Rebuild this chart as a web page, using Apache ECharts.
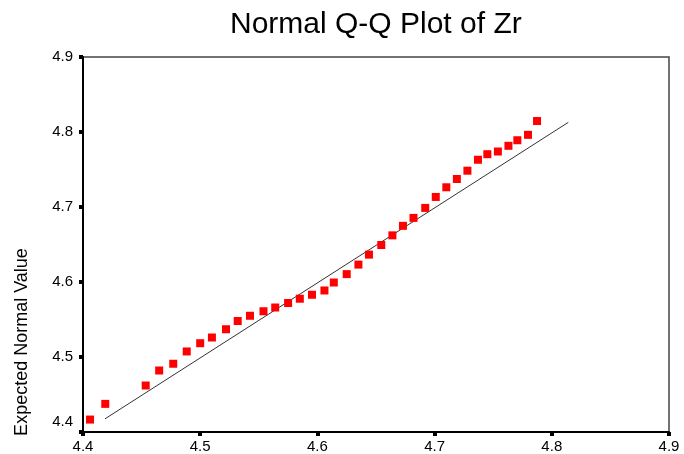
<!DOCTYPE html>
<html>
<head>
<meta charset="utf-8">
<script src="https://cdn.jsdelivr.net/npm/echarts@6/dist/echarts.min.js"></script>
<style>
html,body{margin:0;padding:0;background:#fff;}
#chart{width:684px;height:454px;}
</style>
</head>
<body>
<div id="chart"></div>
<script>
// Observed values (x) and expected normal values (y)
const observed = [4.406,4.419,4.4535,4.465,4.477,4.4885,4.500,4.510,4.522,4.532,4.5425,4.554,4.564,4.575,4.585,4.5954,4.606,4.614,4.625,4.635,4.644,4.6545,4.664,4.673,4.682,4.692,4.701,4.710,4.719,4.728,4.737,4.745,4.754,4.763,4.7706,4.7797,4.7874];
const expected = [4.4166,4.4375,4.462,4.482,4.491,4.5074,4.5184,4.526,4.537,4.548,4.555,4.561,4.566,4.572,4.5777,4.583,4.5887,4.5993,4.6105,4.6232,4.6365,4.6493,4.6622,4.6749,4.6855,4.6988,4.7134,4.7263,4.7373,4.7484,4.763,4.7704,4.774,4.7816,4.789,4.7962,4.8147];
// Reference line endpoints
const refLineX = [4.4188, 4.8141];
const refLineY = [4.4176, 4.8129];
const axisTicks = [4.4, 4.5, 4.6, 4.7, 4.8, 4.9];

const chart = echarts.init(document.getElementById('chart'), null, {renderer:'canvas'});
const font = 'Liberation Sans, Arial, sans-serif';
chart.setOption({
  animation: false,
  backgroundColor: '#fff',
  title: {
    text: 'Normal Q-Q Plot of Zr',
    left: 225, top: 5,
    textStyle: {fontFamily: font, fontSize: 30, fontWeight: 'normal', color: '#000'}
  },
  grid: {left: 83, right: 15, top: 57, bottom: 20, show: true, borderColor: '#444', borderWidth: 1.5},
  xAxis: {
    type: 'value', min: axisTicks[0], max: axisTicks[axisTicks.length-1], interval: 0.1,
    axisLine: {show: true, onZero: false, lineStyle: {color: '#000', width: 2}},
    axisTick: {show: true, length: 4, lineStyle: {color: '#000', width: 4}},
    splitLine: {show: false},
    axisLabel: {fontFamily: font, fontSize: 15, color: '#000', margin: 7,
      formatter: v => v.toFixed(1)}
  },
  yAxis: {
    type: 'value', min: axisTicks[0], max: axisTicks[axisTicks.length-1], interval: 0.1,
    axisLine: {show: true, onZero: false, lineStyle: {color: '#000', width: 2}},
    axisTick: {show: true, length: 4, lineStyle: {color: '#000', width: 4}},
    splitLine: {show: false},
    axisLabel: {fontFamily: font, fontSize: 15, color: '#000', margin: 10,
      formatter: v => Math.abs(v - axisTicks[0]) < 1e-6 ? '{low|' + v.toFixed(1) + '}' : v.toFixed(1),
      rich: {low: {fontFamily: font, fontSize: 15, color: '#000', padding: [0, 0, 20, 0]}}}
  },
  graphic: [{
    type: 'text', x: 22, y: 342, rotation: Math.PI / 2,
    style: {text: 'Expected Normal Value', fontFamily: font, fontSize: 18, fill: '#000',
      align: 'center', verticalAlign: 'middle'}
  }],
  series: [
    {
      type: 'line',
      data: refLineX.map((x, i) => [x, refLineY[i]]),
      symbol: 'none',
      lineStyle: {color: '#333', width: 1},
      z: 2
    },
    {
      type: 'scatter',
      data: observed.map((x, i) => [x, expected[i]]),
      symbol: 'rect', symbolSize: 8,
      itemStyle: {color: '#ff0000', opacity: 1},
      z: 3
    }
  ]
});
</script>
</body>
</html>
